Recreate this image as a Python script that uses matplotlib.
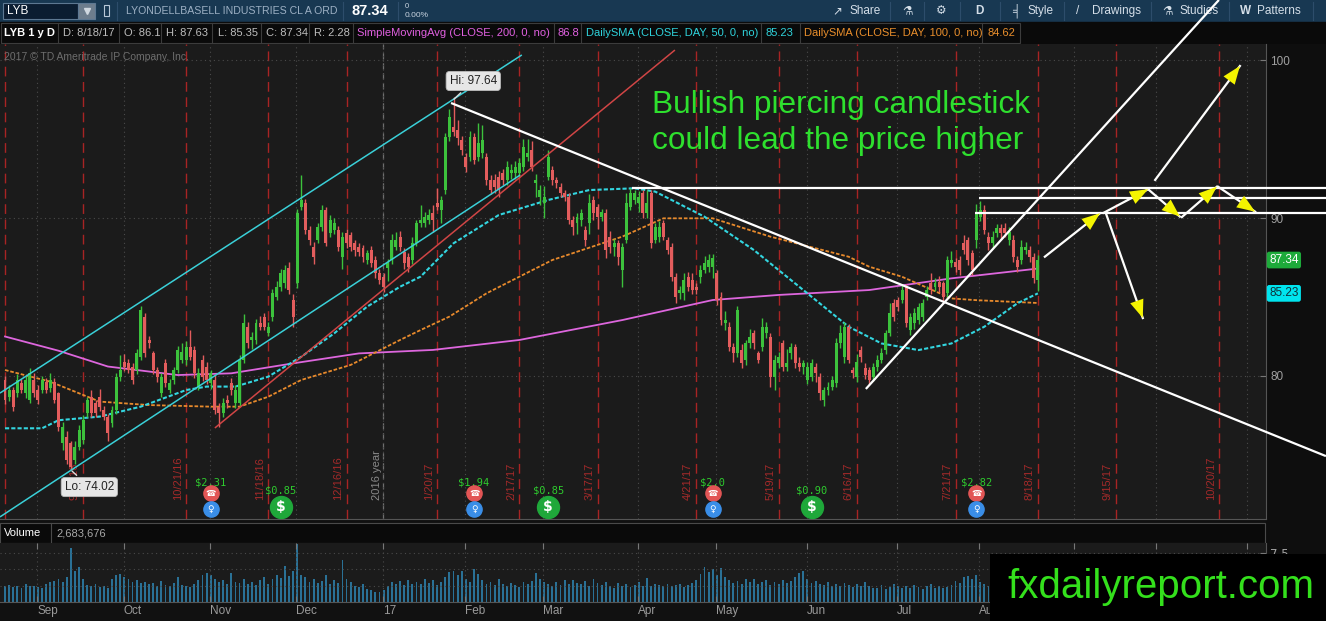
import matplotlib
matplotlib.use('Agg')
import matplotlib.pyplot as plt
import matplotlib.transforms as mtransforms
from matplotlib.patches import Rectangle
import pandas as pd

# LYB daily candles, 8/19/16 .. 8/18/17
opens = [79.75, 78.69, 79.11, 78.90, 79.54, 78.90, 78.48, 79.75, 79.11, 79.11,
         79.64, 79.22, 79.64, 78.90, 75.74, 76.16, 75.74, 74.68, 75.53, 75.95,
         77.64, 78.69, 78.27, 78.69, 77.85, 77.43, 77.00, 77.85, 79.96, 80.91,
         80.80, 80.59, 80.38, 81.22, 83.76, 82.28, 81.43, 80.38, 78.90, 80.80,
         79.11, 79.75, 80.38, 81.01, 81.01, 81.86, 81.65, 79.33, 81.01, 80.59,
         79.54, 79.75, 78.06, 77.64, 78.48, 79.54, 78.27, 78.27, 81.01, 83.12,
         82.28, 82.28, 83.33, 83.76, 82.70, 83.76, 85.02, 85.65, 85.86, 86.81,
         84.81, 85.86, 90.72, 90.93, 89.24, 88.19, 88.61, 89.45, 90.51, 89.03,
         89.24, 89.24, 87.55, 89.03, 88.92, 88.40, 88.19, 88.08, 87.34, 87.97,
         87.34, 86.50, 86.29, 86.81, 87.34, 88.19, 88.82, 87.87, 87.55, 87.34,
         88.40, 89.66, 89.66, 89.87, 90.30, 90.93, 90.51, 91.77, 95.15, 95.78,
         95.57, 94.94, 93.88, 93.88, 95.15, 93.88, 94.09, 93.88, 92.41, 92.41,
         92.62, 92.83, 92.41, 92.83, 92.83, 92.83, 93.25, 93.88, 94.30, 92.19,
         91.35, 90.93, 92.62, 93.04, 92.41, 91.98, 91.56, 91.35, 89.87, 89.66,
         89.87, 89.24, 89.66, 91.14, 90.72, 90.08, 90.30, 88.82, 88.19, 88.40,
         86.71, 88.61, 90.72, 91.14, 90.93, 91.56, 90.30, 91.56, 88.61, 88.82,
         89.66, 88.61, 88.19, 86.29, 85.23, 85.23, 86.29, 86.08, 85.65, 86.29,
         86.71, 86.92, 86.92, 86.50, 85.02, 83.33, 83.12, 81.86, 81.43, 81.65,
         81.01, 82.07, 82.70, 81.43, 81.86, 82.70, 82.49, 79.96, 80.80, 82.07,
         80.59, 81.43, 81.86, 80.80, 80.59, 79.75, 79.96, 80.59, 79.96, 78.48,
         79.11, 79.33, 79.54, 82.07, 81.22, 83.12, 80.38, 79.96, 81.65, 80.49,
         80.38, 79.95, 80.59, 81.01, 81.64, 82.70, 84.60, 84.81, 84.81, 85.65,
         82.91, 83.33, 83.54, 83.75, 85.02, 85.86, 85.65, 85.97, 85.86, 85.23,
         87.13, 87.23, 87.34, 88.39, 88.60, 87.76, 88.60, 90.08, 90.50, 88.81,
         88.39, 89.03, 89.34, 89.34, 88.60, 88.60, 87.34, 87.34, 87.97, 87.97,
         87.55, 86.10]
highs = [80.0, 79.4, 79.3, 80.1, 79.8, 80.0, 80.5, 80.2, 79.4, 80.0,
         79.9, 80.2, 79.9, 79.0, 77.1, 76.5, 75.9, 75.9, 76.9, 77.5,
         78.7, 79.1, 78.5, 79.2, 78.1, 77.6, 78.1, 80.2, 81.3, 81.4,
         81.1, 80.8, 81.7, 84.4, 84.0, 82.5, 81.6, 80.6, 80.2, 81.1,
         79.8, 80.6, 81.9, 82.1, 82.2, 82.9, 81.9, 80.5, 81.3, 80.9,
         80.4, 80.1, 78.3, 78.6, 78.8, 79.9, 79.4, 81.3, 83.9, 83.4,
         82.8, 83.6, 83.8, 84.0, 83.4, 85.5, 86.0, 86.8, 87.0, 87.2,
         85.2, 90.6, 92.7, 91.2, 89.5, 88.5, 89.7, 90.8, 90.7, 90.2,
         90.0, 89.5, 89.1, 89.3, 89.1, 88.6, 88.4, 88.3, 88.0, 88.2,
         87.6, 86.8, 86.5, 87.4, 89.0, 89.1, 89.2, 88.1, 87.8, 88.8,
         89.9, 90.8, 90.4, 90.6, 90.8, 91.9, 91.4, 95.4, 96.9, 97.64,
         96.2, 95.2, 94.1, 95.5, 95.4, 96.0, 95.9, 94.1, 92.7, 92.8,
         93.0, 93.1, 93.6, 93.4, 93.6, 93.8, 95.0, 95.0, 94.9, 92.8,
         92.1, 92.0, 94.3, 93.3, 92.6, 92.2, 91.8, 91.6, 90.1, 90.3,
         90.6, 89.5, 91.5, 91.4, 90.9, 90.6, 90.6, 89.2, 88.7, 88.6,
         88.4, 91.6, 91.9, 91.8, 91.7, 91.8, 91.8, 91.8, 89.7, 89.8,
         89.9, 88.8, 88.4, 86.5, 85.7, 86.5, 86.6, 86.5, 85.9, 87.0,
         87.6, 87.7, 87.7, 86.7, 85.3, 84.1, 83.4, 82.1, 84.4, 82.0,
         82.3, 83.0, 82.9, 81.6, 83.7, 83.4, 82.7, 81.3, 81.5, 82.3,
         81.7, 82.1, 82.0, 81.2, 81.0, 80.9, 81.1, 80.8, 80.2, 79.3,
         79.6, 80.0, 82.4, 83.2, 83.4, 83.3, 80.6, 81.4, 81.9, 80.8,
         80.6, 80.8, 81.3, 81.8, 82.9, 84.6, 84.9, 85.0, 85.8, 85.8,
         84.0, 84.3, 84.6, 84.9, 85.7, 86.5, 86.2, 86.3, 86.0, 87.6,
         87.9, 87.5, 87.6, 88.9, 88.8, 88.0, 90.9, 91.1, 90.8, 89.1,
         89.2, 89.6, 89.6, 89.7, 89.4, 88.9, 87.6, 88.6, 88.5, 88.2,
         87.8, 87.63]
lows = [78.2, 78.4, 77.8, 78.7, 78.9, 78.6, 78.3, 78.7, 78.2, 78.9,
        78.9, 79.0, 78.3, 76.5, 75.3, 74.4, 74.02, 74.4, 75.3, 75.7,
        77.4, 77.4, 77.4, 77.8, 77.2, 75.9, 76.8, 77.6, 79.7, 80.3,
        80.2, 79.5, 80.1, 81.0, 81.2, 81.8, 80.1, 79.6, 78.7, 79.3,
        78.9, 79.5, 80.2, 80.8, 80.7, 81.0, 79.9, 79.1, 79.7, 79.5,
        79.2, 77.6, 76.8, 77.4, 78.0, 78.8, 78.0, 78.1, 80.8, 81.8,
        81.7, 82.0, 82.9, 82.9, 82.5, 83.5, 84.8, 85.4, 85.6, 85.2,
        83.1, 85.6, 90.5, 89.0, 88.3, 87.1, 88.4, 89.2, 88.2, 88.8,
        89.0, 87.9, 86.8, 88.1, 87.9, 87.6, 87.6, 87.2, 87.1, 86.9,
        86.2, 85.8, 85.3, 86.0, 87.1, 88.0, 87.9, 86.8, 86.6, 87.1,
        88.2, 89.4, 89.4, 89.6, 89.1, 90.5, 89.7, 91.5, 94.9, 95.2,
        94.6, 94.0, 92.9, 93.6, 93.4, 93.6, 93.8, 92.1, 91.5, 91.6,
        91.3, 92.1, 92.1, 92.5, 92.5, 92.6, 93.0, 93.6, 93.0, 91.3,
        90.8, 90.0, 92.4, 92.1, 91.9, 91.3, 91.1, 89.6, 88.9, 89.0,
        89.5, 88.2, 89.0, 89.9, 89.3, 89.8, 87.5, 87.8, 87.6, 87.0,
        85.65, 88.4, 90.5, 90.9, 90.4, 90.0, 90.0, 88.1, 88.4, 88.5,
        88.6, 87.7, 86.0, 84.6, 84.9, 84.8, 85.4, 85.2, 85.2, 85.9,
        86.5, 86.6, 86.2, 84.5, 83.2, 82.9, 81.6, 80.9, 81.2, 80.5,
        80.7, 81.8, 81.7, 80.8, 81.6, 82.4, 79.3, 79.1, 80.5, 80.3,
        80.3, 81.1, 80.5, 80.3, 80.1, 79.5, 79.7, 79.6, 78.5, 78.1,
        78.8, 79.1, 79.3, 81.8, 80.8, 80.8, 79.9, 79.6, 80.9, 79.8,
        79.4, 79.7, 80.3, 80.8, 81.4, 82.5, 83.5, 84.1, 84.6, 83.1,
        82.6, 83.0, 83.3, 83.5, 84.8, 85.2, 85.4, 85.3, 84.7, 85.0,
        86.9, 86.6, 86.4, 87.7, 87.0, 86.4, 88.1, 89.8, 89.0, 88.0,
        88.1, 88.8, 88.7, 88.8, 88.3, 87.2, 86.6, 87.1, 87.7, 87.2,
        85.9, 85.35]
closes = [78.48, 79.11, 78.06, 79.75, 79.11, 79.75, 80.17, 78.90, 78.48, 79.75,
          79.11, 79.75, 78.48, 76.79, 76.79, 74.68, 74.26, 75.53, 76.58, 77.22,
          78.48, 77.64, 77.64, 78.06, 77.43, 76.37, 77.85, 79.96, 80.38, 80.59,
          80.38, 79.75, 81.43, 84.18, 81.43, 82.07, 80.38, 79.96, 79.96, 79.54,
          79.54, 80.38, 81.65, 81.54, 81.86, 81.22, 80.17, 80.17, 79.96, 79.75,
          80.17, 77.85, 77.64, 78.27, 78.27, 79.11, 79.11, 81.01, 83.33, 82.07,
          82.49, 83.33, 83.12, 83.12, 83.12, 85.23, 85.65, 86.50, 86.71, 85.44,
          83.76, 90.30, 91.14, 89.24, 88.61, 87.55, 89.45, 90.51, 88.40, 89.87,
          89.66, 88.19, 88.82, 88.40, 88.19, 87.97, 87.87, 87.55, 87.76, 87.13,
          86.50, 86.08, 85.65, 87.13, 88.61, 88.61, 88.19, 87.13, 86.92, 88.40,
          89.66, 89.87, 90.08, 90.19, 89.87, 90.72, 91.14, 95.15, 96.41, 95.46,
          95.04, 94.30, 93.25, 95.15, 93.67, 94.73, 94.94, 92.41, 91.77, 91.98,
          91.77, 92.41, 93.25, 93.04, 93.25, 93.46, 94.51, 94.09, 93.25, 92.41,
          91.77, 91.35, 93.88, 92.41, 92.19, 91.56, 91.35, 89.87, 89.45, 90.08,
          90.30, 88.61, 90.93, 90.30, 90.08, 90.40, 87.97, 88.19, 88.40, 87.55,
          88.19, 90.93, 91.56, 91.56, 91.35, 90.30, 90.93, 88.40, 89.45, 89.45,
          88.82, 87.97, 86.29, 85.02, 85.44, 86.08, 85.65, 85.44, 85.44, 86.71,
          87.13, 87.34, 87.45, 84.81, 83.54, 83.54, 81.86, 81.43, 84.18, 80.80,
          82.07, 82.49, 82.07, 81.01, 83.12, 83.12, 79.96, 81.01, 81.22, 80.59,
          80.80, 81.86, 80.80, 80.59, 80.80, 80.59, 80.80, 80.17, 78.90, 79.11,
          79.33, 79.75, 82.07, 82.70, 83.12, 81.01, 80.17, 80.91, 81.22, 80.07,
          79.75, 80.59, 81.01, 81.43, 82.70, 83.96, 83.75, 84.38, 85.44, 83.33,
          83.75, 83.96, 84.38, 84.60, 85.44, 85.44, 85.86, 85.65, 85.02, 87.34,
          87.34, 86.92, 86.71, 87.97, 87.34, 86.71, 90.29, 90.50, 89.24, 88.39,
          88.81, 89.34, 89.03, 89.03, 89.13, 87.55, 86.92, 88.18, 88.18, 87.55,
          86.18, 87.34]
# volume in millions of shares
volume_m = [2.4, 2.6, 2.3, 2.5, 2.2, 2.7, 2.4, 2.5, 2.3, 2.1,
            2.8, 3.0, 3.2, 3.5, 3.1, 3.8, 8.3, 4.7, 5.4, 3.5,
            2.6, 2.4, 2.8, 2.3, 2.5, 2.2, 3.6, 4.1, 4.3, 3.9,
            3.5, 3.0, 3.4, 2.9, 3.1, 2.7, 2.9, 2.5, 3.2, 2.6,
            2.4, 2.9, 3.9, 2.6, 2.5, 2.3, 2.8, 3.3, 4.1, 4.5,
            4.2, 3.6, 3.0, 3.4, 2.8, 4.4, 3.1, 2.9, 3.6, 2.7,
            3.0, 2.6, 3.3, 3.9, 2.8, 3.5, 4.1, 3.7, 5.5, 4.0,
            4.8, 8.9, 4.2, 3.9, 3.0, 3.6, 2.9, 3.2, 4.1, 2.8,
            3.4, 2.9, 6.4, 3.5, 3.0, 2.5, 2.3, 2.7, 2.0, 1.8,
            1.6, 1.5, 1.9, 2.5, 3.0, 2.7, 3.2, 2.6, 3.4, 2.8,
            3.0, 2.7, 3.6, 2.9, 3.3, 2.6, 3.1, 3.8, 4.6, 4.7,
            4.1, 4.8, 3.6, 3.0, 5.0, 4.3, 3.3, 2.8, 3.1, 2.6,
            3.5, 2.7, 2.4, 2.9, 2.6, 2.3, 3.0, 2.8, 3.2, 4.4,
            3.6, 3.1, 2.7, 2.5, 3.0, 2.6, 3.3, 2.8, 3.4, 2.9,
            2.7, 3.2, 2.5, 3.6, 2.9, 2.6, 3.0, 2.4, 2.2, 2.9,
            2.5, 2.7, 2.3, 2.6, 3.1, 2.4, 3.7, 2.5, 2.8, 2.6,
            2.5, 2.8, 2.4, 2.6, 2.7, 2.3, 2.6, 2.9, 3.4, 4.3,
            5.3, 4.6, 5.0, 4.1, 5.2, 3.8, 3.3, 2.9, 3.2, 2.8,
            3.5, 3.0, 3.6, 2.7, 3.1, 3.3, 2.6, 3.0, 2.8, 3.4,
            2.9, 3.2, 3.8, 4.5, 4.7, 3.6, 2.9, 3.2, 2.7, 2.6,
            3.0, 2.5, 2.8, 2.4, 2.9, 2.6, 2.3, 2.7, 2.5, 3.0,
            2.4, 2.2, 2.1, 2.6, 2.0, 2.3, 2.8, 2.5, 2.2, 2.4,
            2.1, 2.6, 2.3, 2.0, 2.4, 2.7, 2.2, 2.5, 2.1, 2.3,
            2.6, 3.2, 2.9, 3.9, 4.0, 3.5, 4.1, 3.0, 2.7, 2.5,
            2.8, 2.4, 3.0, 2.6, 2.3, 2.9, 2.5, 3.1, 2.7, 3.3,
            2.9, 2.68]

# moving averages read at a few bar positions
sma200_days = [0, 13, 25, 42, 55, 70, 86, 104, 125, 150, 172, 188, 210, 230, 251]
sma200 = [82.5, 81.6, 80.6, 80.06, 80.17, 80.8, 81.43, 81.65, 82.28, 83.54,
          84.81, 85.13, 85.44, 86.18, 86.8]
sma50_days = [0, 9, 13, 23, 33, 44, 49, 56, 64, 72, 80, 88, 96, 101, 109, 120,
              132, 142, 153, 158, 170, 182, 194, 205, 213, 222, 230, 238, 246, 251]
sma50 = [76.69, 76.69, 77.2, 77.43, 78.06, 79.11, 79.33, 79.33, 79.96, 81.22,
         82.7, 84.39, 85.65, 86.29, 88.4, 90.19, 91.14, 91.77, 91.88, 91.67,
         90.08, 87.97, 85.44, 83.12, 82.06, 81.64, 82.06, 83.12, 84.6, 85.23]
sma100_days = [0, 11, 23, 35, 50, 57, 64, 72, 84, 96, 101, 108, 117, 133, 150,
               160, 172, 186, 205, 210, 218, 230, 236, 251]
sma100 = [80.38, 79.64, 78.38, 78.16, 78.06, 78.06, 78.69, 79.75, 80.7, 82.28,
          82.91, 83.76, 85.23, 87.34, 88.82, 89.98, 89.98, 88.82, 87.55, 86.92,
          86.28, 84.91, 84.8, 84.62]

holidays = ['2016-09-05', '2016-11-24', '2016-12-26', '2017-01-02', '2017-01-16',
            '2017-02-20', '2017-04-14', '2017-05-29', '2017-07-04', '2017-09-04',
            '2017-11-23']
expirations = ['2016-08-19', '2016-09-16', '2016-10-21', '2016-11-18', '2016-12-16',
               '2017-01-20', '2017-02-17', '2017-03-17', '2017-04-21', '2017-05-19',
               '2017-06-16', '2017-07-21', '2017-08-18', '2017-09-15', '2017-10-20']

# earnings (phone + bulb) and dividends ($) markers
event_days = [50, 67, 114, 132, 172, 196, 236]
event_kind = ['earn', 'div', 'earn', 'div', 'earn', 'div', 'earn']
event_text = ['$2.31', '$0.85', '$1.94', '$0.85', '$2.0', '$0.90', '$2.82']

W, H = 1326, 621
SANS = ['Liberation Sans', 'DejaVu Sans']
GRN, RED = '#3cc23c', '#e35d5d'

days = pd.bdate_range('2016-08-19', '2017-11-30', freq='C', holidays=holidays)
n = len(closes)
idx = list(range(n))


def px_rect(x0, y0, x1, y1):
    return [x0 / W, 1 - y1 / H, (x1 - x0) / W, (y1 - y0) / H]


fig = plt.figure(figsize=(W / 100, H / 100), dpi=100)
fig.patch.set_facecolor('#111111')

# ---------- background: toolbar, header row, panel chrome ----------
bg = fig.add_axes([0, 0, 1, 1])
bg.set_xlim(0, W)
bg.set_ylim(H, 0)
bg.axis('off')
bg.add_patch(Rectangle((0, 0), W, 22, color='#183852'))
bg.add_patch(Rectangle((0, 22), W, 22, color='#0a0a0a'))
bg.add_patch(Rectangle((1266, 44), W - 1266, H - 44, color='#0e0e0e'))

# toolbar
bg.add_patch(Rectangle((3, 3), 75, 16, fc='#0b1d31', ec='#5d7892', lw=0.8))
bg.add_patch(Rectangle((78, 3), 17, 16, fc='#6d7d8d', ec='#5d7892', lw=0.8))
bg.plot([86.5], [10.5], marker='v', ms=5, color='#d0d8e0')
bg.text(7, 11, 'LYB', color='white', fontsize=8.5, va='center', family=SANS)
bg.add_patch(Rectangle((104, 5), 5, 11, fc='none', ec='#b8c8d8', lw=0.8))
for sx in [117, 343, 398, 890, 924, 960, 1000, 1064, 1151, 1229, 1313]:
    bg.plot([sx, sx], [2, 20], color='#2d4d6b', lw=0.8)
bg.text(126, 11, 'LYONDELLBASELL INDUSTRIES CL A ORD', color='#9db0c4',
        fontsize=7.6, va='center', family=SANS)
bg.text(352, 11, '87.34', color='white', fontsize=10.5, fontweight='bold',
        va='center', family=SANS)
bg.text(405, 6, '0', color='#c8d4e0', fontsize=5.5, va='center', family=SANS)
bg.text(405, 15.5, '0.00%', color='#c8d4e0', fontsize=6, va='center', family=SANS)
tool_items = [(832, '\u2197'), (849, 'Share'), (902, '\u2697'), (936, '\u2699'),
              (975, 'D'), (1012, '\u2561'), (1027, 'Style'), (1076, '/'),
              (1092, 'Drawings'), (1162, '\u2697'), (1180, 'Studies'),
              (1240, 'W'), (1257, 'Patterns')]
for tx, tt in tool_items:
    bg.text(tx, 11, tt, color='#d4dee8', fontsize=8.5, va='center', family=SANS,
            fontweight='bold' if tt in ('D', 'W') else 'normal')

# header row with study values
bg.add_patch(Rectangle((1, 23), 1019, 20, fc='none', ec='#3c3c3c', lw=0.8))
for sx in [58, 119, 161, 212, 261, 309, 353, 554, 581, 761, 800, 982]:
    bg.plot([sx, sx], [23, 43], color='#3c3c3c', lw=0.8)
header = [(4, 'LYB 1 y D', 'white'), (63, 'D: 8/18/17', '#bdbdbd'),
          (124, 'O: 86.1', '#bdbdbd'), (166, 'H: 87.63', '#bdbdbd'),
          (218, 'L: 85.35', '#bdbdbd'), (266, 'C: 87.34', '#bdbdbd'),
          (314, 'R: 2.28', '#bdbdbd'),
          (357, 'SimpleMovingAvg (CLOSE, 200, 0, no)', '#e060e0'),
          (557, '86.8', '#e060e0'),
          (586, 'DailySMA (CLOSE, DAY, 50, 0, no)', '#2fd3dc'),
          (766, '85.23', '#2fd3dc'),
          (804, 'DailySMA (CLOSE, DAY, 100, 0, no)', '#ea8f2c'),
          (987, '84.62', '#ea8f2c')]
for hx, ht, hc in header:
    bg.text(hx, 33.5, ht, color=hc, fontsize=8, va='center', family=SANS,
            fontweight='bold' if ht.startswith('LYB') else 'normal')

# volume header
bg.add_patch(Rectangle((0, 523), 1265, 20, fc='#0a0a0a', ec='#4a4a4a', lw=0.8))
bg.plot([51, 51], [523, 543], color='#4a4a4a', lw=0.8)
bg.text(4, 533, 'Volume', color='white', fontsize=8, va='center', family=SANS)
bg.text(56, 533, '2,683,676', color='#a8a8a8', fontsize=8, va='center', family=SANS)

# ---------- main price panel ----------
ax = fig.add_axes(px_rect(0, 44, 1266, 519))
ax.set_facecolor('#1b1b1b')
ax.set_xlim(-1.215, 306.44)
ax.set_ylim(70.949, 101.013)
for s in ['top', 'left']:
    ax.spines[s].set_visible(False)
for s in ['bottom', 'right']:
    ax.spines[s].set_color('#555555')

month_pos, month_lab = [], []
for i in range(1, len(days)):
    if days[i].month != days[i - 1].month:
        month_pos.append(i - 1.2)
        month_lab.append('17' if days[i].month == 1 else days[i].strftime('%b'))
jan_pos = [p for p, l in zip(month_pos, month_lab) if l == '17'][0]

ax.set_xticks(month_pos)
ax.tick_params(axis='x', length=0, labelbottom=False)
ax.set_yticks([80, 90, 100])
ax.yaxis.tick_right()
ax.tick_params(axis='y', direction='in', length=4, color='#777777', pad=3,
               labelcolor='#a0a0a0', labelsize=8.5)
for lb in ax.get_yticklabels():
    lb.set_family(SANS)
ax.grid(True, color='#4a4a4a', ls=(0, (1, 3)), lw=0.8)

# option expiration lines + labels
for d in expirations:
    k = days.get_loc(pd.Timestamp(d))
    ax.axvline(k, color='#a82424', ls=(0, (7, 4)), lw=1.0, zorder=1.5)
    if k > 10:
        ts = pd.Timestamp(d)
        ax.text(k - 2.0, 72.15, f'{ts.month}/{ts.day}/{ts.strftime("%y")}',
                rotation=90, ha='center', va='bottom', color='#a52a2a',
                fontsize=8, family=SANS, zorder=1.6)
ax.axvline(jan_pos, color='#6e6e6e', ls=(0, (5, 3)), lw=0.9, zorder=1.5)
ax.text(jan_pos - 1.5, 72.15, '2016 year', rotation=90, ha='center', va='bottom',
        color='#8a8a8a', fontsize=8, family=SANS, zorder=1.6)

# moving averages
ax.plot(sma200_days, sma200, color='#dd66dd', lw=1.3, zorder=3)
ax.plot(sma100_days, sma100, color='#e88a2c', lw=1.3, ls=(0, (2, 1)), zorder=3)
ax.plot(sma50_days, sma50, color='#33d6e0', lw=1.5, ls=(0, (2, 1)), zorder=3)

# candles
cols = [GRN if c >= o else RED for o, c in zip(opens, closes)]
ax.vlines(idx, lows, highs, colors=cols, lw=1.0, zorder=4)
ax.bar(idx, [abs(c - o) for o, c in zip(opens, closes)],
       bottom=[min(o, c) for o, c in zip(opens, closes)],
       width=0.72, color=cols, lw=0, zorder=4)

# hand-drawn analysis lines (in price/bar units)
lines = [((-1.22, 78.92), (125.6, 100.32), '#3ad0d8', 1.1),
         ((-1.22, 71.08), (125.2, 92.72), '#3ad0d8', 1.1),
         ((51.0, 76.71), (162.8, 100.63), '#d04545', 1.1),
         ((108.4, 97.28), (321.0, 74.93), 'white', 1.6),
         ((209.2, 79.18), (295.0, 103.8), 'white', 1.6),
         ((152.4, 91.87), (321.0, 91.87), 'white', 1.6),
         ((236.7, 91.25), (321.0, 91.25), 'white', 1.6),
         ((235.7, 90.32), (321.0, 90.32), 'white', 1.6)]
for (x0, y0), (x1, y1), c, w in lines:
    ax.plot([x0, x1], [y0, y1], color=c, lw=w, clip_on=False, zorder=5,
            solid_capstyle='butt')

arrows = [((252.7, 87.55), (266.1, 90.30)),
          ((267.0, 90.33), (277.8, 91.82)),
          ((277.8, 91.82), (285.5, 90.09)),
          ((286.0, 90.06), (294.5, 91.98)),
          ((294.8, 91.98), (303.8, 90.40)),
          ((267.5, 90.32), (276.5, 83.67)),
          ((279.5, 92.41), (300.1, 99.62))]
for (x0, y0), (x1, y1) in arrows:
    ax.plot([x0, x1], [y0, y1], color='white', lw=1.6, clip_on=False, zorder=6)
    ax.annotate('', xy=(x1, y1), xytext=(x0, y0), annotation_clip=False, zorder=7,
                arrowprops=dict(arrowstyle='-|>,head_length=1.3,head_width=0.5',
                                mutation_scale=10, lw=0.01, fc='#f4f400',
                                ec='#f4f400', shrinkA=0, shrinkB=0))

# earnings / dividend markers
for k, kind, t in zip(event_days, event_kind, event_text):
    if kind == 'earn':
        ax.text(k, 73.29, t, color='#2ecb2e', fontsize=7.5, ha='center', va='center',
                family='DejaVu Sans Mono', zorder=6)
        ax.scatter([k], [72.59], s=120, color='#e25555', zorder=6)
        ax.scatter([k], [71.58], s=120, color='#3a8ee8', zorder=6)
        ax.text(k, 72.57, '\u260e', color='white', fontsize=6, ha='center',
                va='center', zorder=7)
        ax.text(k, 71.58, '\u2640', color='white', fontsize=6.5, ha='center',
                va='center', zorder=7)
    else:
        ax.text(k, 72.78, t, color='#2ecb2e', fontsize=7.5, ha='center', va='center',
                family='DejaVu Sans Mono', zorder=6)
        ax.scatter([k], [71.71], s=250, color='#1fa83a', zorder=6)
        ax.text(k, 71.71, '$', color='white', fontsize=10, fontweight='bold',
                ha='center', va='center', zorder=7)

# hi / lo bubbles
bub = dict(boxstyle='round,pad=0.3', fc='#e6e6e6', ec='#bbbbbb', lw=0.6)
ax.annotate('Hi: 97.64', xy=(108.6, 97.4), xytext=(113.8, 98.67), ha='center',
            va='center', fontsize=8.5, color='#222222', family=SANS, bbox=bub,
            arrowprops=dict(arrowstyle='-', color='#dddddd', lw=1), zorder=8)
ax.annotate('Lo: 74.02', xy=(15.8, 74.1), xytext=(20.5, 72.97), ha='center',
            va='center', fontsize=8.5, color='#222222', family=SANS, bbox=bub,
            arrowprops=dict(arrowstyle='-', color='#dddddd', lw=1), zorder=8)

ax.text(0.003, 0.9726, '2017 \u00a9 TD Ameritrade IP Company, Inc.', transform=ax.transAxes,
        color='#6e6e6e', fontsize=7.5, va='center', family=SANS)

ax.text(157.2, 96.65, 'Bullish piercing candlestick', color='#2ee02e', fontsize=22.8,
        family=SANS, va='baseline', zorder=8)
ax.text(157.2, 94.37, 'could lead the price higher', color='#2ee02e', fontsize=22.8,
        family=SANS, va='baseline', zorder=8)

# last price / sma bubbles on the price scale
tr = mtransforms.blended_transform_factory(ax.transAxes, ax.transData)
ax.text(1.0025, closes[-1], f'{closes[-1]:.2f}', transform=tr, ha='left', va='center',
        color='white', fontsize=8.5, family=SANS, clip_on=False, zorder=8,
        bbox=dict(boxstyle='round,pad=0.2', fc='#1daa3a', ec='none'))
ax.text(1.0025, sma50[-1], f'{sma50[-1]:.2f}', transform=tr, ha='left', va='center',
        color='#10303a', fontsize=8.5, family=SANS, clip_on=False, zorder=8,
        bbox=dict(boxstyle='round,pad=0.2', fc='#00e4ee', ec='none'))

# ---------- volume panel ----------
vax = fig.add_axes(px_rect(0, 543, 1266, 602))
vax.set_facecolor('#1b1b1b')
vax.set_xlim(-1.215, 306.44)
vax.set_ylim(0, 9.05)
vax.bar(idx, volume_m, width=0.45, color='#2a7196', lw=0)
for s in ['top', 'left']:
    vax.spines[s].set_visible(False)
for s in ['bottom', 'right']:
    vax.spines[s].set_color('#555555')
vax.set_xticks(month_pos)
# only the months left of the watermark box are visible in the chart
vax.set_xticklabels([l if p < 240 else '' for p, l in zip(month_pos, month_lab)],
                    ha='left')
vax.tick_params(axis='x', direction='in', length=4, color='#777777', pad=2,
                labelcolor='#9a9a9a', labelsize=8.5, top=True)
for lb in vax.get_xticklabels():
    lb.set_family(SANS)
vax.set_yticks([2.5, 5, 7.5])
vax.set_yticklabels(['', '', '7.5'])
vax.yaxis.tick_right()
vax.tick_params(axis='y', direction='in', length=4, color='#777777', pad=3,
                labelcolor='#a0a0a0', labelsize=8.5)
vax.grid(True, color='#4a4a4a', ls=(0, (1, 3)), lw=0.8)

# ---------- watermark box ----------
fig.patches.append(Rectangle((990 / W, 0), (W - 990) / W, (H - 554) / H,
                             transform=fig.transFigure, fc='black', ec='none', zorder=10))
fig.text(1007 / W, 1 - 598 / H, 'fxdailyreport.com', color='#34e01c', fontsize=29,
         family=SANS, va='baseline', zorder=11)

fig.savefig('out.png', dpi=100, facecolor=fig.get_facecolor())
